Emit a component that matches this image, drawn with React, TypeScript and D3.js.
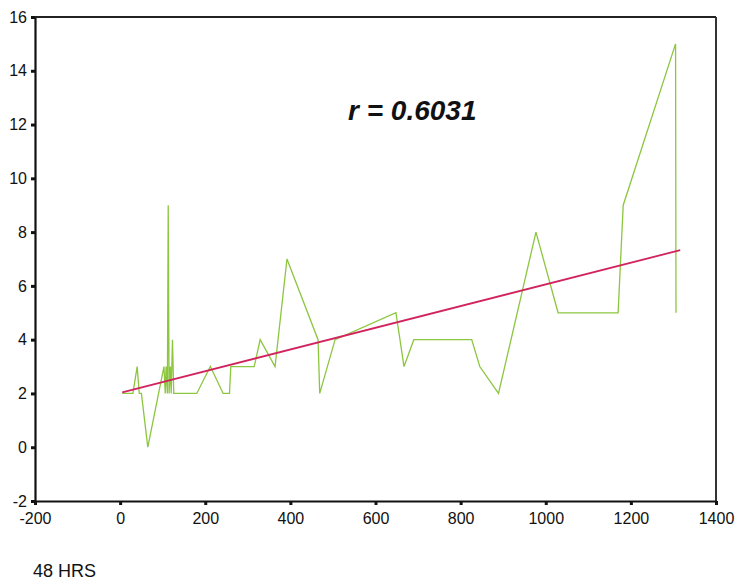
import React, { useRef, useEffect } from 'react';
import * as d3 from 'd3';

// hours (x) and score (y), in x order
const hours = [5, 30, 40, 45, 50, 65, 103, 106, 108, 111, 113, 115, 118, 120, 123, 126, 180, 212, 242, 257, 260, 315, 329, 364, 392, 465, 469, 505, 648, 667, 690, 826, 845, 889, 977, 1029, 1170, 1182, 1305, 1306];
const scores = [2, 2, 3, 2, 2, 0, 3, 2, 3, 2, 9, 2, 3, 2, 4, 2, 2, 3, 2, 2, 3, 3, 4, 3, 7, 4, 2, 4, 5, 3, 4, 4, 3, 2, 8, 5, 5, 9, 15, 5];

// fitted line ends
const fitHours = [5, 1316];
const fitScores = [2.04, 7.33];

const xTicks = [-200, 0, 200, 400, 600, 800, 1000, 1200, 1400];
const yTicks = [-2, 0, 2, 4, 6, 8, 10, 12, 14, 16];

const rLabel = 'r = 0.6031';
const xLabel = '48 HRS';

function App() {
  const svgRef = useRef(null);

  useEffect(() => {
    const svg = d3.select(svgRef.current);
    svg.selectAll('*').remove();

    const x = d3.scaleLinear().domain([-200, 1400]).range([35, 716]);
    const y = d3.scaleLinear().domain([-2, 16]).range([501, 17]);

    // frame
    svg.append('line')
      .attr('x1', x(-200)).attr('x2', x(1400))
      .attr('y1', y(16)).attr('y2', y(16))
      .attr('stroke', '#222').attr('stroke-width', 2);
    svg.append('line')
      .attr('x1', x(1400)).attr('x2', x(1400))
      .attr('y1', y(16)).attr('y2', y(-2))
      .attr('stroke', '#333').attr('stroke-width', 2);

    const fontFam = '"Liberation Sans", Arial, sans-serif';
    const fmt = (d) => String(d);

    const xAxis = svg.append('g')
      .attr('transform', `translate(0,${y(-2)})`)
      .call(d3.axisBottom(x).tickValues(xTicks).tickFormat(fmt).tickSize(4).tickPadding(8).tickSizeOuter(0));
    const yAxis = svg.append('g')
      .attr('transform', `translate(${x(-200)},0)`)
      .call(d3.axisLeft(y).tickValues(yTicks).tickFormat(fmt).tickSize(4).tickPadding(4).tickSizeOuter(0));

    [xAxis, yAxis].forEach((g) => {
      g.select('.domain').attr('stroke', '#111').attr('stroke-width', 2.2);
      g.selectAll('.tick line').attr('stroke', '#111').attr('stroke-width', 3);
      g.selectAll('.tick text')
        .attr('font-family', fontFam)
        .attr('font-size', 16)
        .attr('fill', '#111');
    });

    const pts = hours.map((h, i) => [h, scores[i]]);
    const line = d3.line().x((d) => x(d[0])).y((d) => y(d[1]));

    svg.append('path')
      .datum(pts)
      .attr('d', line)
      .attr('fill', 'none')
      .attr('stroke', '#8cc63f')
      .attr('stroke-width', 1.3)
      .attr('stroke-linejoin', 'miter');

    svg.append('path')
      .datum(fitHours.map((h, i) => [h, fitScores[i]]))
      .attr('d', line)
      .attr('fill', 'none')
      .attr('stroke', '#d1245f')
      .attr('stroke-width', 1.8);

    svg.append('text')
      .attr('x', 348)
      .attr('y', 120)
      .attr('font-family', fontFam)
      .attr('font-size', 28)
      .attr('font-weight', 'bold')
      .attr('font-style', 'italic')
      .attr('fill', '#111')
      .text(rLabel);

    svg.append('text')
      .attr('x', 33)
      .attr('y', 577)
      .attr('font-family', fontFam)
      .attr('font-size', 18)
      .attr('fill', '#111')
      .text(xLabel);
  }, []);

  return (
    <svg
      ref={svgRef}
      width={737}
      height={582}
      style={{ position: 'absolute', left: 0, top: 0, background: '#fff' }}
    ></svg>
  );
}

export default App;
